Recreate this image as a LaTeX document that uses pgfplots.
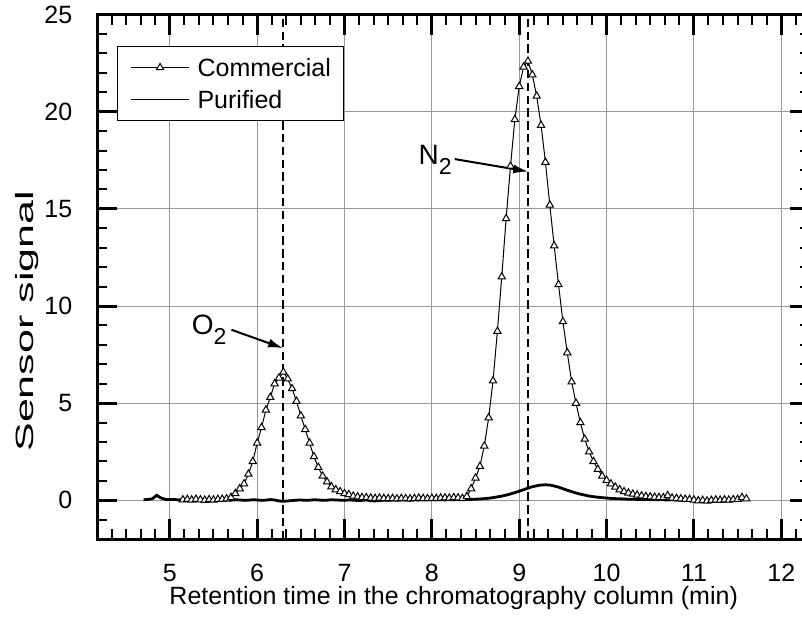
\documentclass[border=0pt]{standalone}
\usepackage{fontspec}
\setmainfont{Liberation Sans}
\usepackage{pgfplots}
\pgfplotsset{compat=1.18}
\usetikzlibrary{calc,arrows.meta}

\begin{document}
\begin{tikzpicture}[font=\fontsize{12.5}{15}\selectfont]
\begin{axis}[
  scale only axis,
  width=356.6pt, height=262.3pt,
  xmin=4.16667, xmax=12.33333, ymin=-2, ymax=25,
  xtick={5,...,12}, ytick={0,5,...,25},
  minor xtick={4.16667,4.33333,...,12.4},
  minor ytick={-2,-1,...,25},
  tick align=inside,
  major tick length=10pt, minor tick length=5pt,
  major tick style={line width=1.5pt, black},
  minor tick style={line width=1pt, black},
  axis line style={line width=1.5pt},
  grid=major,
  major grid style={line width=0.5pt, black!40},
  /pgf/number format/assume math mode=true,
  xticklabel style={anchor=base, yshift=-21.2pt},
  yticklabel style={anchor=east, inner sep=0pt, xshift=-12.2pt},
  xlabel={Retention time in the chromatography column (min)},
  ylabel={\scalebox{1.72}[1]{Sensor signal}},
  xlabel style={at={(axis description cs:0.5,-0.1252)}, anchor=base},
  ylabel style={at={(axis description cs:-0.0893,0.4152)}, anchor=base},
  legend style={at={(axis description cs:0,1)}, anchor=north west,
    xshift=10pt, yshift=-15.5pt, draw=black, line width=0.5pt,
    inner xsep=6.5pt, inner ysep=4.8pt, row sep=3.8pt, column sep=4pt,
    nodes={inner sep=0pt, text depth=1.5pt, text height=10.5pt}},
  legend cell align=left,
  legend image code/.code={
    \draw[mark repeat=2,mark phase=2,#1] plot coordinates {(0pt,0pt) (14.5pt,0pt) (29pt,0pt)};
  },
]

% O2 and N2 positions
\addplot[forget plot, black, line width=1pt, dash pattern=on 4.2pt off 2.2pt]
  coordinates {(6.30,-2) (6.30,25)};
\addplot[forget plot, black, line width=1pt, dash pattern=on 4.2pt off 2.2pt]
  coordinates {(9.10,-2) (9.10,25)};

% commercial
\addplot[black, line width=0.5pt, mark=triangle*, mark size=2.1pt,
  mark options={solid, fill=white, draw=black, line width=0.5pt}]
table {
5.15 0.03
5.20 0.05
5.25 0.02
5.30 0.06
5.35 0.03
5.40 0.01
5.45 0.04
5.50 0.02
5.55 0.05
5.60 0.06
5.65 0.08
5.70 0.15
5.75 0.35
5.80 0.60
5.85 0.85
5.90 1.35
5.95 2.00
6.00 2.95
6.05 3.75
6.10 4.65
6.15 5.30
6.20 6.00
6.25 6.30
6.30 6.60
6.35 6.25
6.40 5.75
6.45 5.10
6.50 4.35
6.55 3.65
6.60 2.95
6.65 2.25
6.70 1.70
6.75 1.25
6.80 0.95
6.85 0.70
6.90 0.55
6.95 0.45
7.00 0.35
7.05 0.30
7.10 0.22
7.15 0.18
7.20 0.15
7.25 0.14
7.30 0.12
7.35 0.10
7.40 0.12
7.45 0.10
7.50 0.09
7.55 0.10
7.60 0.08
7.65 0.10
7.70 0.09
7.75 0.08
7.80 0.10
7.85 0.12
7.90 0.10
7.95 0.09
8.00 0.11
8.05 0.10
8.10 0.12
8.15 0.13
8.20 0.12
8.25 0.14
8.30 0.13
8.35 0.10
8.40 0.20
8.45 0.60
8.50 1.15
8.55 1.75
8.60 2.80
8.65 4.25
8.70 6.15
8.75 8.70
8.80 11.50
8.85 14.50
8.90 17.20
8.95 19.60
9.00 21.30
9.05 22.30
9.10 22.60
9.15 21.90
9.20 20.80
9.25 19.30
9.30 17.40
9.35 15.20
9.40 13.10
9.45 11.10
9.50 9.20
9.55 7.60
9.60 6.10
9.65 5.00
9.70 4.00
9.75 3.15
9.80 2.50
9.85 2.00
9.90 1.60
9.95 1.25
10.00 1.03
10.05 0.85
10.10 0.68
10.15 0.55
10.20 0.45
10.25 0.38
10.30 0.32
10.35 0.27
10.40 0.23
10.45 0.20
10.50 0.18
10.55 0.16
10.60 0.15
10.65 0.14
10.70 0.25
10.75 0.12
10.80 0.10
10.85 0.08
10.90 0.06
10.95 0.05
11.00 0.02
11.05 -0.02
11.10 0.00
11.15 -0.03
11.20 0.00
11.25 0.02
11.30 0.01
11.35 0.03
11.40 0.02
11.45 0.04
11.50 0.05
11.55 0.15
11.60 0.08
};
\addlegendentry{Commercial}

% purified
\addplot[forget plot, black, line width=1.4pt] table {
4.70 0.03
4.75 0.05
4.80 0.08
4.85 0.26
4.90 0.12
4.95 0.05
5.00 0.04
5.05 0.05
5.10 0.02
5.15 0.04
5.20 0.01
5.25 -0.02
5.30 0.00
5.35 -0.01
5.40 0.02
5.45 0.00
5.50 -0.02
5.55 0.01
5.60 0.00
5.65 0.02
5.70 0.01
5.75 0.03
5.80 0.02
5.85 0.00
5.90 0.01
5.95 0.03
6.00 0.02
6.05 0.00
6.10 0.01
6.15 0.04
6.20 0.02
6.25 -0.03
6.30 -0.05
6.35 -0.03
6.40 -0.01
6.45 0.01
6.50 0.02
6.55 0.00
6.60 0.01
6.65 0.03
6.70 0.02
6.75 0.00
6.80 0.01
6.85 0.03
6.90 0.02
6.95 0.01
7.00 0.00
7.05 0.02
7.10 0.01
7.15 -0.01
7.20 0.00
7.25 0.02
7.30 -0.02
7.35 -0.03
7.40 -0.01
7.45 0.01
7.50 0.00
7.55 0.02
7.60 0.01
7.65 0.03
7.70 0.02
7.75 0.01
7.80 0.03
7.85 0.02
7.90 0.04
7.95 0.03
8.00 0.05
8.05 0.03
8.10 0.04
8.15 0.02
8.20 0.04
8.25 0.03
8.30 0.05
8.35 0.04
8.40 0.05
8.45 0.05
8.50 0.06
8.55 0.07
8.60 0.09
8.65 0.11
8.70 0.14
8.75 0.18
8.80 0.22
8.85 0.27
8.90 0.33
8.95 0.40
9.00 0.47
9.05 0.55
9.10 0.63
9.15 0.70
9.20 0.75
9.25 0.79
9.30 0.80
9.35 0.79
9.40 0.74
9.45 0.68
9.50 0.60
9.55 0.52
9.60 0.45
9.65 0.38
9.70 0.32
9.75 0.27
9.80 0.22
9.85 0.19
9.90 0.16
9.95 0.14
10.00 0.12
10.05 0.10
10.10 0.09
10.15 0.08
10.20 0.07
10.25 0.06
10.30 0.06
10.35 0.05
10.40 0.05
10.45 0.04
10.50 0.04
10.55 0.03
10.60 0.04
10.65 0.03
10.70 0.02
10.75 0.03
10.80 0.02
10.85 0.01
10.90 0.02
10.95 0.00
11.00 0.01
11.05 -0.01
11.10 0.00
};
\addlegendimage{black, line width=0.5pt}
\addlegendentry{Purified}

% annotations
\draw[-{Latex[length=7.5pt,width=4.5pt]}, line width=1pt]
  (axis cs:5.7065,8.775) -- (axis cs:6.297,7.83);
\draw[-{Latex[length=7.5pt,width=4.5pt]}, line width=1pt]
  (axis cs:8.263,17.56) -- (axis cs:9.103,16.92);
\node[anchor=base west, inner sep=0pt, font=\fontsize{14}{16}\selectfont]
  at (axis cs:5.248,8.52) {O\raisebox{-5pt}{\fontsize{11.5}{13}\selectfont 2}};
\node[anchor=base west, inner sep=0pt, font=\fontsize{14}{16}\selectfont]
  at (axis cs:7.843,17.27) {N\raisebox{-5pt}{\fontsize{11.5}{13}\selectfont 2}};
\end{axis}
\pgfresetboundingbox
\path ($(current axis.south west)+(-48.5pt,-41.35pt)$) rectangle ($(current axis.north east)+(-4.2pt,7.25pt)$);
\end{tikzpicture}
\end{document}
